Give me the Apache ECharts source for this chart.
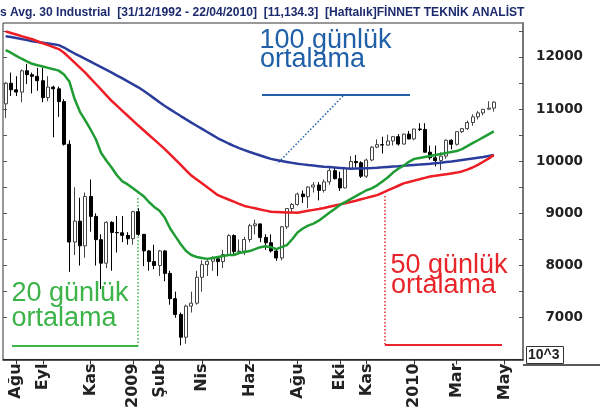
<!DOCTYPE html>
<html><head><meta charset="utf-8">
<script src="https://cdn.jsdelivr.net/npm/echarts@6/dist/echarts.min.js"></script>
<style>html,body{margin:0;padding:0;background:#fff}#c{width:600px;height:411px}</style>
</head><body><div id="c"></div>
<script>
// Weekly categories (week-ending Fridays)
const weekDates = [
'2008-07-18','2008-07-25','2008-08-01','2008-08-08','2008-08-15','2008-08-22','2008-08-29','2008-09-05','2008-09-12','2008-09-19',
'2008-09-26','2008-10-03','2008-10-10','2008-10-17','2008-10-24','2008-10-31','2008-11-07','2008-11-14','2008-11-21','2008-11-28',
'2008-12-05','2008-12-12','2008-12-19','2008-12-26','2009-01-02','2009-01-09','2009-01-16','2009-01-23','2009-01-30','2009-02-06',
'2009-02-13','2009-02-20','2009-02-27','2009-03-06','2009-03-13','2009-03-20','2009-03-27','2009-04-03','2009-04-10','2009-04-17',
'2009-04-24','2009-05-01','2009-05-08','2009-05-15','2009-05-22','2009-05-29','2009-06-05','2009-06-12','2009-06-19','2009-06-26',
'2009-07-03','2009-07-10','2009-07-17','2009-07-24','2009-07-31','2009-08-07','2009-08-14','2009-08-21','2009-08-28','2009-09-04',
'2009-09-11','2009-09-18','2009-09-25','2009-10-02','2009-10-09','2009-10-16','2009-10-23','2009-10-30','2009-11-06','2009-11-13',
'2009-11-20','2009-11-27','2009-12-04','2009-12-11','2009-12-18','2009-12-25','2010-01-01','2010-01-08','2010-01-15','2010-01-22',
'2010-01-29','2010-02-05','2010-02-12','2010-02-19','2010-02-26','2010-03-05','2010-03-12','2010-03-19','2010-03-26','2010-04-02',
'2010-04-09','2010-04-16','2010-04-23','2010-04-30','2010-05-07','2010-05-14','2010-05-21','2010-05-28'
];
const opens = [11100,11496,11370,11326,11734,11659,11628,11543,11220,11421,
11388,11143,10325,8451,8852,8378,9325,8943,8497,8046,
8829,8635,8629,8579,8515,9034,8599,8281,8077,8001,
8280,7850,7366,7063,6627,7223,7279,7776,8018,8083,
8131,8076,8212,8575,8268,8277,8500,8764,8799,8540,
8438,8280,8146,8743,9093,9172,9370,9321,9505,9544,
9441,9605,9820,9666,9488,9865,9996,9972,9713,10023,
10270,10318,10310,10389,10471,10329,10520,10428,10618,10610,
10173,10067,10012,10099,10402,10325,10567,10625,10742,10851,
10927,10997,11019];
const highs = [11520,11700,11630,11760,11867,11700,11790,11790,11630,11450,
11430,11190,10400,9500,9300,9400,9650,9000,8600,8850,
8850,8950,8950,8640,9050,9100,8600,8300,8400,8300,
8300,7900,7500,7100,7250,7500,7900,8100,8100,8180,
8150,8300,8600,8600,8500,8550,8800,8880,8800,8600,
8600,8300,8760,9100,9200,9400,9440,9520,9600,9600,
9650,9900,9880,9800,9890,10100,10120,10000,10050,10290,
10420,10470,10510,10480,10520,10530,10580,10620,10730,10730,
10300,10300,10170,10420,10420,10570,10640,10780,10900,10960,
11000,11150,11150];
const lows = [10827,11250,11250,11130,11480,11300,11350,11130,11150,10460,
10850,10300,7880,8200,8000,8150,8650,8000,7550,7950,
7900,8250,8450,8400,8400,8570,7990,7900,7930,7800,
7700,7250,7000,6470,6500,7100,7250,7500,7800,7900,
7800,7950,8200,8200,8250,8200,8450,8600,8450,8300,
8250,8090,8100,8700,9000,9150,9200,9100,9400,9250,
9400,9550,9650,9430,9480,9850,9880,9680,9680,10000,
10250,10150,10300,10300,10300,10320,10420,10400,10580,10170,
10030,9900,9830,10050,10230,10300,10540,10600,10680,10800,
10880,10990,10950];
const closes = [11496,11370,11326,11734,11659,11628,11543,11220,11421,11388,
11143,10325,8451,8852,8378,9325,8943,8497,8046,8829,
8635,8629,8579,8515,9034,8599,8281,8077,8001,8280,
7850,7366,7063,6627,7223,7279,7776,8018,8083,8131,
8076,8212,8575,8268,8277,8500,8764,8799,8540,8438,
8280,8146,8743,9093,9172,9370,9321,9505,9544,9441,
9605,9820,9666,9488,9865,9996,9972,9713,10023,10270,
10318,10310,10389,10471,10329,10520,10428,10618,10610,10173,
10067,10012,10099,10402,10325,10567,10625,10742,10851,10927,
10997,11019,11134];
const ma100 = [12395,12380,12361,12342,12322,12301,12286,12271,12256,12241,
12226,12180,12120,12065,12015,11962,11910,11857,11805,11752,
11699,11643,11587,11530,11474,11417,11350,11280,11205,11130,
11060,10995,10930,10866,10803,10741,10680,10620,10560,10500,
10440,10390,10340,10293,10252,10214,10178,10143,10110,10077,
10045,10025,10005,9987,9969,9951,9940,9928,9917,9906,
9895,9888,9880,9872,9864,9857,9860,9863,9867,9871,
9876,9883,9891,9899,9906,9914,9921,9929,9936,9944,
9951,9962,9973,9985,9996,10008,10023,10038,10053,10068,
10083,10101,10120];
const ma50 = [12489,12459,12429,12398,12368,12338,12300,12262,12225,12188,
12150,12080,11985,11890,11795,11699,11590,11481,11372,11263,
11154,11060,10966,10872,10778,10684,10594,10504,10414,10323,
10233,10132,10030,9929,9827,9726,9651,9576,9500,9425,
9350,9309,9267,9226,9184,9143,9120,9098,9075,9053,
9030,9026,9022,9018,9015,9011,9030,9049,9068,9086,
9105,9128,9150,9173,9195,9218,9244,9271,9297,9324,
9350,9395,9440,9485,9530,9575,9601,9628,9654,9681,
9707,9722,9737,9752,9767,9782,9805,9840,9880,9930,
9990,10050,10120];
const ma20 = [12132,12080,12020,11965,11915,11868,11840,11815,11790,11765,
11737,11662,11530,11192,10947,10782,10609,10421,10158,10008,
9876,9726,9613,9556,9481,9406,9331,9218,9124,9049,
8917,8711,8560,8410,8278,8203,8165,8147,8128,8147,
8165,8184,8203,8203,8241,8259,8278,8316,8353,8372,
8353,8316,8353,8391,8504,8635,8711,8767,8804,8861,
8936,9011,9086,9162,9218,9274,9331,9387,9444,9481,
9538,9613,9688,9782,9857,9914,9989,10045,10064,10083,
10102,10120,10139,10158,10177,10195,10233,10289,10346,10402,
10459,10515,10571];
const tickDates = ['2008-08-01','2008-09-05','2008-11-07','2009-01-02','2009-02-06','2009-04-03','2009-06-05','2009-08-07','2009-10-02','2009-11-06','2010-01-08','2010-03-05','2010-05-07'];
const tickLabels = ['Ağu','Eyl','Kas','2009','Şub','Nis','Haz','Ağu','Eki','Kas','2010','Mar','May'];
const yTickValues = [7000,7500,8000,8500,9000,9500,10000,10500,11000,11500,12000,12500];
const yLabelValues = [7000,8000,9000,10000,11000,12000];
const titleText = 's Avg. 30 Industrial  [31/12/1992 - 22/04/2010]  [11,134.3]  [Haftalık]FİNNET TEKNİK ANALİST';

const candles = opens.map((o, i) => [o, closes[i], lows[i], highs[i]]);
const isTick = (idx, val) => tickDates.indexOf(val) >= 0;

const chart = echarts.init(document.getElementById('c'), null, {renderer: 'canvas'});
const annFont = '27px "Liberation Sans", Arial, sans-serif';
chart.setOption({
  animation: false,
  backgroundColor: '#fff',
  grid: {left: 3, top: 23, width: 520, height: 342, show: true, borderColor: '#333', borderWidth: 1},
  xAxis: {
    type: 'category', data: weekDates, boundaryGap: true,
    axisLine: {lineStyle: {color: '#222', width: 1.5}},
    axisTick: {show: true, interval: isTick, alignWithLabel: true, length: 5, lineStyle: {color: '#333'}},
    axisLabel: {interval: isTick, rotate: 90, margin: 4,
      formatter: v => tickLabels[tickDates.indexOf(v)] || '',
      fontFamily: 'DejaVu Sans', fontWeight: 'bold', fontSize: 16, color: '#222'},
    splitLine: {show: false}
  },
  yAxis: [{
    type: 'value', position: 'right', min: 6200, max: 12650, scale: true,
    splitLine: {show: false},
    axisLine: {show: true, lineStyle: {color: '#777', width: 2}},
    axisTick: {show: true, inside: true, length: 4, customValues: yTickValues, lineStyle: {color: '#555'}},
    axisLabel: {customValues: yLabelValues, align: 'right', margin: 60, formatter: v => String(v),
      fontFamily: 'DejaVu Sans', fontWeight: 'bold', fontSize: 13.5, color: '#222'}
  }, {
    type: 'value', position: 'left', min: 6200, max: 12650, scale: true,
    splitLine: {show: false}, axisLine: {show: false},
    axisTick: {show: true, inside: true, length: 4, customValues: yTickValues, lineStyle: {color: '#555'}},
    axisLabel: {show: false}
  }],
  series: [
    {type: 'candlestick', data: candles, barWidth: 3.5, z: 2,
     itemStyle: {color: '#fff', color0: '#000', borderColor: '#444', borderColor0: '#000', borderWidth: 1}},
    {type: 'line', data: ma100, showSymbol: false, z: 4, lineStyle: {color: '#2b3d9c', width: 2.5}},
    {type: 'line', data: ma50, showSymbol: false, z: 4, lineStyle: {color: '#ee1c24', width: 2.5}},
    {type: 'line', data: ma20, showSymbol: false, z: 4, lineStyle: {color: '#1f9c34', width: 2.5}}
  ],
  graphic: [
    {type: 'text', x: 0, y: 12.5, style: {text: titleText, align: 'left', verticalAlign: 'middle',
      font: 'bold 12.1px "Liberation Sans", Arial, sans-serif', fill: '#1c2a6e'}},
    // 100 annotation
    {type: 'text', x: 259.5, y: 40.5, style: {text: '100 günlük', verticalAlign: 'middle', font: annFont, fill: '#2060a8'}},
    {type: 'text', x: 260, y: 59.5, style: {text: 'ortalama', verticalAlign: 'middle', font: annFont, fill: '#2060a8'}},
    {type: 'line', shape: {x1: 262, y1: 95, x2: 410, y2: 95}, style: {stroke: '#2060a8', lineWidth: 2}},
    {type: 'line', shape: {x1: 343, y1: 96, x2: 277, y2: 164}, style: {stroke: '#2060a8', lineWidth: 1.5, lineDash: [1.5, 2]}},
    // 20 annotation
    {type: 'text', x: 11.5, y: 293.5, style: {text: '20 günlük', verticalAlign: 'middle', font: annFont, fill: '#3cb44a'}},
    {type: 'text', x: 11.5, y: 318.5, style: {text: 'ortalama', verticalAlign: 'middle', font: annFont, fill: '#3cb44a'}},
    {type: 'line', shape: {x1: 12, y1: 346, x2: 138, y2: 346}, style: {stroke: '#3cb44a', lineWidth: 2}},
    {type: 'line', shape: {x1: 138, y1: 198, x2: 138, y2: 346}, style: {stroke: '#3cb44a', lineWidth: 1.5, lineDash: [1.5, 2]}},
    // 50 annotation
    {type: 'text', x: 390.5, y: 265.5, style: {text: '50 günlük', verticalAlign: 'middle', font: annFont, fill: '#e8252a'}},
    {type: 'text', x: 391, y: 285.5, style: {text: 'ortalama', verticalAlign: 'middle', font: annFont, fill: '#e8252a'}},
    {type: 'line', shape: {x1: 385, y1: 345, x2: 502, y2: 345}, style: {stroke: '#e8252a', lineWidth: 2}},
    {type: 'line', shape: {x1: 385, y1: 196, x2: 385, y2: 345}, style: {stroke: '#e8252a', lineWidth: 1.5, lineDash: [1.5, 2]}},
    // bottom line extension and 10^3 box
    {type: 'line', shape: {x1: 523, y1: 365, x2: 600, y2: 365}, style: {stroke: '#222', lineWidth: 1.5}},
    {type: 'rect', shape: {x: 526.5, y: 346.5, width: 37, height: 17}, style: {fill: '#fff', stroke: '#333', lineWidth: 1}},
    {type: 'text', x: 528, y: 355.5, style: {text: '10^3', verticalAlign: 'middle', font: 'bold 14px "Liberation Sans", Arial, sans-serif', fill: '#222'}}
  ]
});
</script>
</body></html>
